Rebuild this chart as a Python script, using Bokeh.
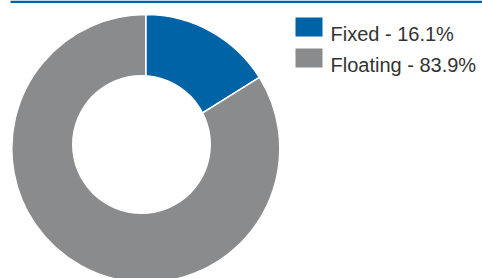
from bokeh.plotting import figure
from bokeh.models import Range1d, ColumnDataSource, BoxAnnotation
from bokeh.core.properties import value
from bokeh.embed import file_html
from bokeh.resources import INLINE
import math

# Data
categories = ["Fixed", "Floating"]
shares = [16.1, 83.9]
colors = ["#0063a6", "#8a8b8d"]
labels = [f"{c} - {s}%" for c, s in zip(categories, shares)]

W, H = 482, 278
p = figure(width=W, height=H, output_backend="svg", toolbar_location=None,
           x_range=Range1d(0, W), y_range=Range1d(0, H), min_border=0)
p.axis.visible = False
p.grid.visible = False
p.outline_line_color = None
p.background_fill_color = "white"
p.border_fill_color = "white"

# angles: start at top, clockwise
total = sum(shares)
starts, ends = [], []
acc = 0.0
for s in shares:
    a0 = math.pi / 2 - 2 * math.pi * acc / total
    acc += s
    a1 = math.pi / 2 - 2 * math.pi * acc / total
    starts.append(a0)
    ends.append(a1)

src = ColumnDataSource(dict(start=starts, end=ends, color=colors, label=labels))
cx, cy = 145.3, H - 148
p.wedge(x=cx, y=cy, radius=134,
        start_angle="start", end_angle="end", direction="clock",
        fill_color="color", line_color="white", line_width=1.5, source=src)
# donut hole
p.circle(x=[141], y=[H - 144], radius=69.5, fill_color="white", line_color=None)

# top rule
p.add_layout(BoxAnnotation(left=10, right=W, bottom=H - 2.5, top=H,
                           fill_color="#0063a6", fill_alpha=1, line_color=None))

# legend (manual)
ly = [H - 26.5, H - 57.5]
lsrc = ColumnDataSource(dict(x=[308.5, 308.5], y=ly, color=colors,
                             tx=[330, 330], ty=[y - 7 for y in ly], label=labels))
p.rect(x="x", y="y", width=27, height=19, fill_color="color", line_color=None, source=lsrc)
p.text(x="tx", y="ty", text="label", text_font=value("Liberation Sans"),
       text_font_size="20px", text_color="#333333", text_baseline="alphabetic",
       text_align="left", source=lsrc)

open("out.html", "w").write(file_html(p, INLINE))
